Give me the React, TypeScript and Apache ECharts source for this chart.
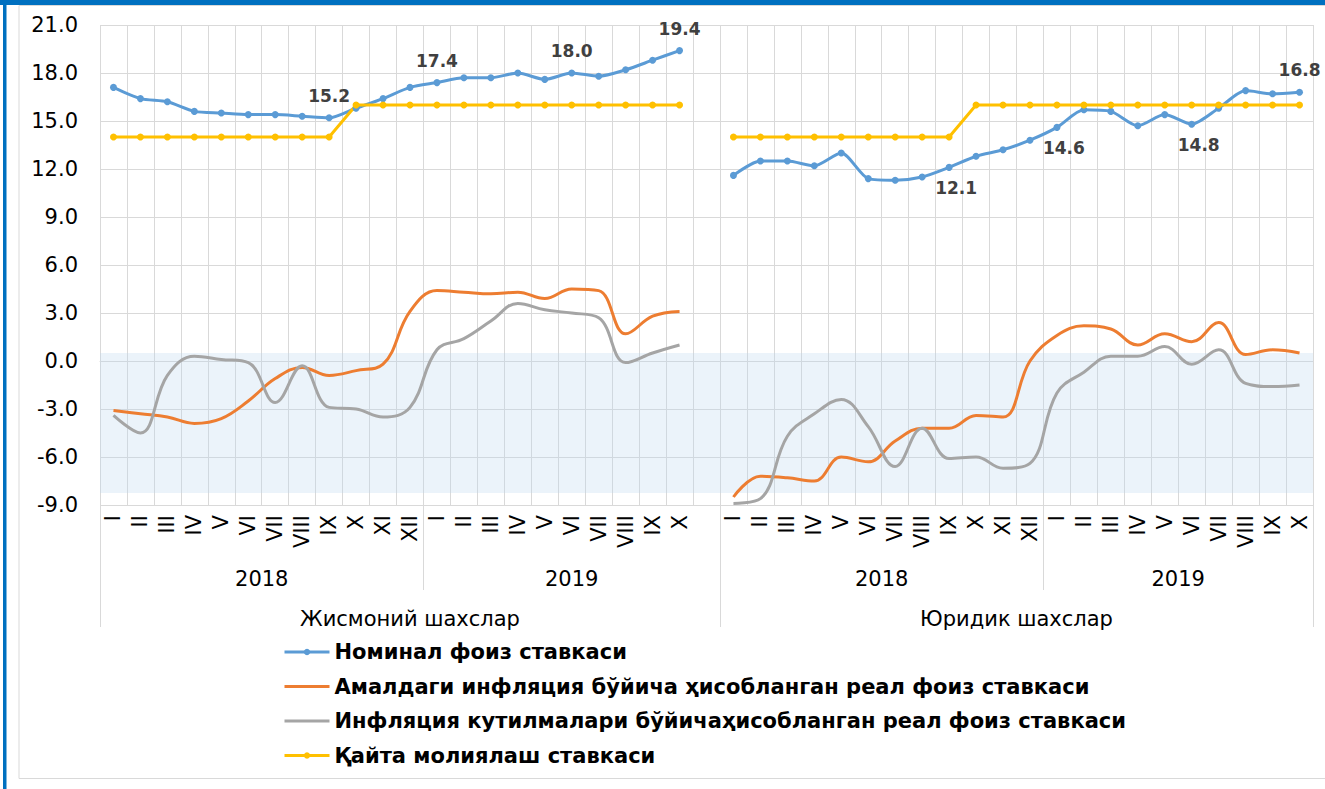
import React, { useEffect, useRef } from 'react';
import * as echarts from 'echarts';

// ---------- data ----------
const months = ['I', 'II', 'III', 'IV', 'V', 'VI', 'VII', 'VIII', 'IX', 'X', 'XI', 'XII'];
const monthsPerYear = [12, 10]; // 2018: I-XII, 2019: I-X
const yearLabels = ['2018', '2019'];
const groupLabels = ['Жисмоний шахслар', 'Юридик шахслар'];
const seriesNames = [
  'Номинал фоиз ставкаси',
  'Амалдаги инфляция бўйича ҳисобланган реал фоиз ставкаси',
  'Инфляция кутилмалари бўйичаҳисобланган реал фоиз ставкаси',
  'Қайта молиялаш ставкаси',
];

// Жисмоний шахслар
const nominalInd = [17.1, 16.4, 16.2, 15.6, 15.5, 15.4, 15.4, 15.3, 15.2, 15.8, 16.4, 17.1, 17.4, 17.7, 17.7, 18.0, 17.6, 18.0, 17.8, 18.2, 18.8, 19.4];
const actualInd = [-3.1, -3.3, -3.5, -3.9, -3.6, -2.5, -1.1, -0.4, -0.9, -0.6, -0.2, 3.1, 4.4, 4.3, 4.2, 4.3, 3.9, 4.5, 4.4, 1.7, 2.8, 3.1];
const expectedInd = [-3.4, -4.5, -0.9, 0.3, 0.1, -0.1, -2.6, -0.3, -2.9, -3.0, -3.5, -2.9, 0.7, 1.4, 2.5, 3.6, 3.2, 3.0, 2.7, -0.1, 0.5, 1.0];
const refiInd = [14, 14, 14, 14, 14, 14, 14, 14, 14, 16, 16, 16, 16, 16, 16, 16, 16, 16, 16, 16, 16, 16];

// Юридик шахслар
const nominalCorp = [11.6, 12.5, 12.5, 12.2, 13.0, 11.4, 11.3, 11.5, 12.1, 12.8, 13.2, 13.8, 14.6, 15.7, 15.6, 14.7, 15.4, 14.8, 15.8, 16.9, 16.7, 16.8];
const actualCorp = [-8.5, -7.2, -7.3, -7.5, -6.0, -6.3, -5.0, -4.2, -4.2, -3.4, -3.5, 0.0, 1.6, 2.2, 2.0, 1.0, 1.7, 1.2, 2.4, 0.4, 0.7, 0.5];
const expectedCorp = [-8.9, -8.6, -4.7, -3.3, -2.4, -4.1, -6.6, -4.2, -6.1, -6.0, -6.7, -6.4, -2.0, -0.7, 0.3, 0.3, 0.9, -0.2, 0.7, -1.4, -1.6, -1.5];
const refiCorp = [14, 14, 14, 14, 14, 14, 14, 14, 14, 16, 16, 16, 16, 16, 16, 16, 16, 16, 16, 16, 16, 16];

// shaded band (value range)
const bandRange = [0.5, -8.25];

// labelled points (index inside each group)
const nominalLabelsInd = [8, 12, 17, 21];
const nominalLabelsCorpAbove = [21];
const nominalLabelsCorpBelow = [8, 12, 17];
const actualLabelsInd = [12, 20];
const actualLabelsCorp = [12, 20];
const expectedLabelsInd = [12];

const yMin = -9;
const yMax = 21;
const yStep = 3;

// ---------- derived ----------
const groupMonths: string[] = [];
monthsPerYear.forEach((n) => groupMonths.push(...months.slice(0, n)));
const groupLen = groupMonths.length; // 22
const offset2 = groupLen + 1; // blank category between groups
const categories = [...groupMonths, '', ...groupMonths];
const total = categories.length; // 45

const join = (a: number[], b: number[]) => [...a, null, ...b];

// spans for the multi-level axis (in category units)
const yearSpans: [number, number][] = [
  [0, monthsPerYear[0]],
  [monthsPerYear[0], offset2],
  [offset2, offset2 + monthsPerYear[0]],
  [offset2 + monthsPerYear[0], total],
];
const yearSpanLabels = [yearLabels[0], yearLabels[1], yearLabels[0], yearLabels[1]];
const groupSpans: [number, number][] = [
  [0, offset2],
  [offset2, total],
];

const FONT = 'DejaVu Sans';

export default function App() {
  const ref = useRef<HTMLDivElement>(null);

  useEffect(() => {
    if (!ref.current) return;
    const chart = echarts.init(ref.current, null, { renderer: 'svg' });

    const labelBase = {
      show: false,
      fontFamily: FONT,
      fontWeight: 'bold',
      fontSize: 17,
      color: '#404040',
      formatter: (p: any) => Number(p.value).toFixed(1),
    };

    const decorate = (
      vals: (number | null)[],
      specs: { idx: number[]; label: any }[]
    ) =>
      vals.map((v, i) => {
        const s = specs.find((sp) => sp.idx.includes(i));
        if (v === null || !s) return v;
        return { value: v, label: { show: true, ...s.label } };
      });

    const shift = (arr: number[]) => arr.map((i) => i + offset2);
    const top = { position: 'top', distance: 10 };
    const bottomR = { position: 'bottom', distance: 9, offset: [7, 0] };

    const nominalData = decorate(join(nominalInd, nominalCorp), [
      { idx: [...nominalLabelsInd, ...shift(nominalLabelsCorpAbove)], label: top },
      { idx: shift(nominalLabelsCorpBelow), label: bottomR },
    ]);
    const actualData = decorate(join(actualInd, actualCorp), [
      { idx: [...actualLabelsInd, ...shift(actualLabelsCorp)], label: top },
    ]);
    const expectedData = decorate(join(expectedInd, expectedCorp), [
      { idx: expectedLabelsInd, label: top },
    ]);
    const refiData = join(refiInd, refiCorp);

    const centers = (spans: [number, number][]) => spans.map(([a, b]) => (a + b) / 2);
    const yearCenters = centers(yearSpans);
    const groupCenters = centers(groupSpans);
    const yearInnerTicks = yearSpans.map((s) => s[1]).filter((v) => !groupSpans.some((g) => g[0] === v || g[1] === v));
    const groupTicks = [0, ...groupSpans.map((g) => g[1])];

    const grid = '#D9D9D9';
    const hiddenSymbol = { color: 'rgba(0,0,0,0)', opacity: 0 };

    const option: any = {
      animation: false,
      backgroundColor: '#fff',
      grid: { left: 100, right: 12, top: 25, bottom: 284, containLabel: false },
      legend: {
        orient: 'vertical',
        left: 283,
        top: 640,
        padding: 0,
        itemWidth: 45,
        itemHeight: 8,
        itemGap: 10.5,
        lineStyle: { width: 3 },
        data: [
          { name: seriesNames[0] },
          { name: seriesNames[1], itemStyle: hiddenSymbol },
          { name: seriesNames[2], itemStyle: hiddenSymbol },
          { name: seriesNames[3] },
        ],
        textStyle: { fontFamily: FONT, fontWeight: 'bold', fontSize: 21, lineHeight: 24, color: '#000' },
      },
      xAxis: [
        {
          type: 'category',
          data: categories,
          boundaryGap: true,
          axisLine: { show: true, lineStyle: { color: grid, width: 1 } },
          axisTick: { show: false },
          splitLine: { show: true, interval: 0, lineStyle: { color: grid, width: 1 } },
          axisLabel: {
            interval: 0,
            rotate: 90,
            margin: 10,
            fontFamily: FONT,
            fontSize: 21,
            color: '#000',
          },
        },
        {
          type: 'value',
          min: 0,
          max: total,
          position: 'bottom',
          gridIndex: 0,
          axisLine: { show: false },
          splitLine: { show: false },
          axisTick: { show: true, customValues: yearInnerTicks, length: 85, lineStyle: { color: grid } },
          axisLabel: {
            customValues: yearCenters,
            margin: 63,
            fontFamily: FONT,
            fontSize: 21,
            color: '#000',
            formatter: (v: number) => {
              const k = yearCenters.indexOf(v);
              return k >= 0 ? yearSpanLabels[k] : '';
            },
          },
        },
        {
          type: 'value',
          min: 0,
          max: total,
          position: 'bottom',
          gridIndex: 0,
          axisLine: { show: false },
          splitLine: { show: false },
          axisTick: { show: true, customValues: groupTicks, length: 122, lineStyle: { color: grid } },
          axisLabel: {
            customValues: groupCenters,
            margin: 103,
            fontFamily: FONT,
            fontSize: 21,
            color: '#000',
            formatter: (v: number) => {
              const k = groupCenters.indexOf(v);
              return k >= 0 ? groupLabels[k] : '';
            },
          },
        },
      ],
      yAxis: {
        type: 'value',
        min: yMin,
        max: yMax,
        interval: yStep,
        axisLine: { show: false },
        axisTick: { show: false },
        splitLine: { show: true, lineStyle: { color: grid, width: 1 } },
        axisLabel: {
          margin: 22,
          fontFamily: FONT,
          fontSize: 21,
          color: '#000',
          formatter: (v: number) => v.toFixed(1),
        },
      },
      series: [
        {
          name: 'band',
          type: 'line',
          data: [],
          z: 1,
          silent: true,
          markArea: {
            silent: true,
            itemStyle: { color: 'rgba(189,215,238,0.3)' },
            data: [[{ yAxis: bandRange[0] }, { yAxis: bandRange[1] }]],
          },
        },
        {
          name: seriesNames[0],
          type: 'line',
          data: nominalData,
          smooth: 0.25,
          symbol: 'circle',
          symbolSize: 7,
          lineStyle: { width: 3, color: '#5B9BD5' },
          itemStyle: { color: '#5B9BD5' },
          label: labelBase,
          connectNulls: false,
        },
        {
          name: seriesNames[1],
          type: 'line',
          data: actualData,
          smooth: 0.4,
          showSymbol: false,
          symbol: 'none',
          lineStyle: { width: 3, color: '#ED7D31' },
          itemStyle: { color: '#ED7D31' },
          label: labelBase,
          connectNulls: false,
        },
        {
          name: seriesNames[2],
          type: 'line',
          data: expectedData,
          smooth: 0.4,
          showSymbol: false,
          symbol: 'none',
          lineStyle: { width: 3, color: '#A5A5A5' },
          itemStyle: { color: '#A5A5A5' },
          label: labelBase,
          connectNulls: false,
        },
        {
          name: seriesNames[3],
          type: 'line',
          data: refiData,
          symbol: 'circle',
          symbolSize: 7,
          lineStyle: { width: 3, color: '#FFC000' },
          itemStyle: { color: '#FFC000' },
          connectNulls: false,
        },
      ],
      graphic: [
        { type: 'rect', shape: { x: 19, y: 5.5, width: 1400, height: 773 }, style: { fill: 'none', stroke: '#D9D9D9', lineWidth: 1 }, silent: true, z: -1 },
        { type: 'rect', shape: { x: 0, y: 0, width: 1325, height: 5 }, style: { fill: '#0070C0' }, silent: true },
        { type: 'rect', shape: { x: 3, y: 0, width: 3.5, height: 789 }, style: { fill: '#0070C0' }, silent: true },
      ],
    };

    chart.setOption(option);
    return () => chart.dispose();
  }, []);

  return (
    <div
      ref={ref}
      style={{ position: 'absolute', left: 0, top: 0, width: 1325, height: 789 }}
    />
  );
}
